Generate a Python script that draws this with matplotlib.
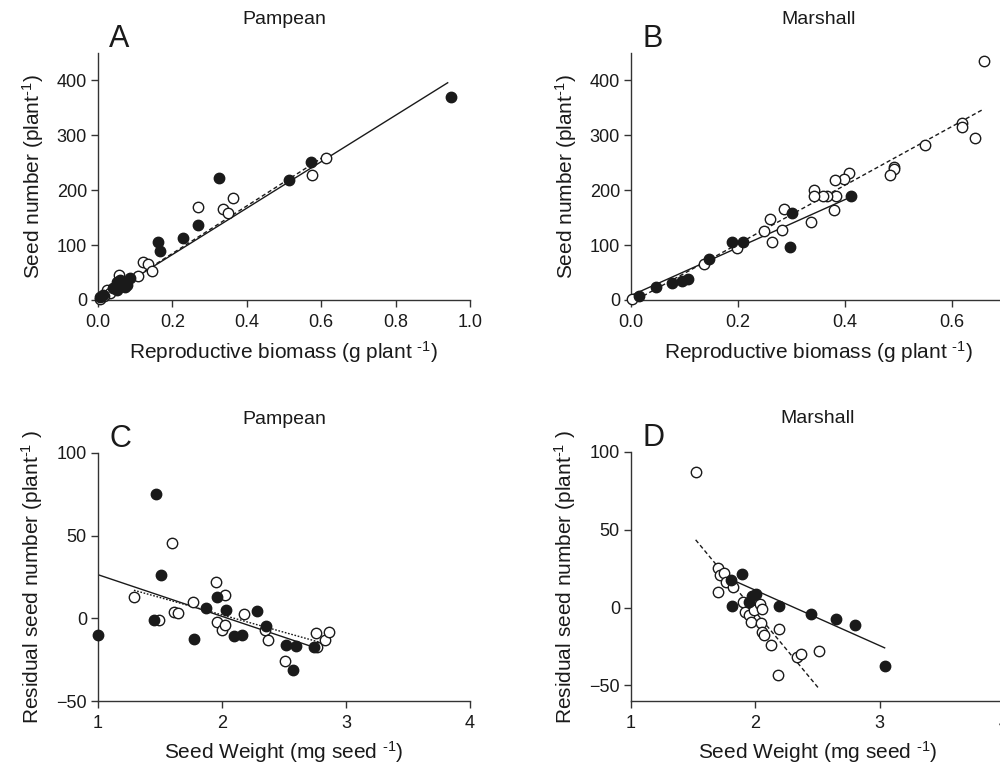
import numpy as np
import matplotlib
matplotlib.use("Agg")
import matplotlib.pyplot as plt

plt.rcParams['font.family'] = ['Liberation Sans', 'DejaVu Sans']
plt.rcParams['mathtext.fontset'] = 'custom'
plt.rcParams['mathtext.rm'] = 'Liberation Sans'
plt.rcParams['mathtext.it'] = 'Liberation Sans:italic'

# Panel A - Pampean, reproductive biomass vs seed number
a_filled_x = [0.949, 0.572, 0.513, 0.326, 0.270, 0.229, 0.162, 0.168, 0.050, 0.077,
              0.086, 0.073, 0.050, 0.014, 0.005, 0.059, 0.065, 0.040]
a_filled_y = [369, 251, 218, 223, 137, 112, 106, 90, 33, 27,
              40, 24, 18, 9, 5, 36, 30, 22]
a_open_x = [0.614, 0.574, 0.364, 0.337, 0.349, 0.269, 0.122, 0.135, 0.145, 0.107,
            0.057, 0.023, 0.005, 0.032, 0.015]
a_open_y = [259, 228, 186, 166, 158, 169, 69, 66, 52, 44,
            46, 18, 1, 12, 8]

# Panel B - Marshall
b_filled_x = [0.412, 0.300, 0.297, 0.209, 0.189, 0.146, 0.106, 0.095, 0.077, 0.047, 0.015]
b_filled_y = [189, 158, 96, 105, 105, 75, 38, 35, 30, 23, 7]
b_open_x = [0.660, 0.618, 0.618, 0.643, 0.550, 0.492, 0.491, 0.484, 0.407, 0.399,
            0.382, 0.384, 0.379, 0.366, 0.359, 0.342, 0.342, 0.336, 0.286, 0.282,
            0.260, 0.264, 0.249, 0.198, 0.137, 0.002]
b_open_y = [436, 323, 315, 295, 283, 242, 239, 228, 231, 221,
            219, 189, 163, 190, 190, 201, 189, 142, 166, 128,
            147, 105, 125, 94, 66, 1]

# Panel C - Pampean, seed weight vs residual seed number
c_filled_x = [1.00, 1.465, 1.508, 1.454, 1.777, 1.871, 1.957, 2.03, 2.10, 2.16,
              2.28, 2.355, 2.516, 2.60, 2.575, 2.742]
c_filled_y = [-9.9, 75, 26, -1, -12.7, 6.2, 12.9, 4.8, -10.7, -10.3,
              4.2, -4.8, -15.9, -16.9, -31, -17.3]
c_open_x = [1.293, 1.492, 1.594, 1.615, 1.643, 1.763, 1.954, 2.024, 1.957, 1.997,
            2.024, 2.177, 2.35, 2.373, 2.508, 2.756, 2.769, 2.83, 2.863]
c_open_y = [12.9, -0.8, 45.5, 3.8, 3.2, 9.7, 21.8, 13.9, -2.2, -6.8,
            -4.2, 2.4, -7.3, -13.3, -26, -8.7, -17.3, -12.9, -8.3]

# Panel D - Marshall
d_filled_x = [1.895, 1.804, 1.81, 1.97, 2.003, 1.95, 2.19, 2.446, 2.652, 2.80, 3.043]
d_filled_y = [21.6, 18, 0.8, 7.2, 9, 3.4, 0.8, -3.8, -7.3, -10.9, -37.6]
d_open_x = [1.52, 1.70, 1.70, 1.716, 1.748, 1.764, 1.818, 1.903, 1.917, 1.95,
            1.963, 1.99, 2.04, 2.056, 2.043, 2.056, 2.07, 2.126, 2.19, 2.185,
            2.338, 2.368, 2.51]
d_open_y = [87, 10, 25.4, 21, 22, 16.5, 13, 3.4, -2.8, -5,
            -9.2, -1.3, 2.6, -0.9, -9.8, -15.6, -17.7, -24, -13.7, -43,
            -32, -30, -28]

# fitted lines: (intercept, slope, x start, x end)
a_filled_fit = (-2, 423, 0.0, 0.94)
a_open_fit = (-2, 433, 0.0, 0.61)
b_filled_fit = (8, 437, 0.0, 0.41)
b_open_fit = (-5, 535, 0.0, 0.66)
c_filled_fit = (51.6, -25.2, 1.0, 2.74)
c_open_fit = (44.1, -21.0, 1.29, 2.78)
d_filled_fit = (82.4, -35.6, 1.81, 3.04)
d_open_fit = (190.1, -96.4, 1.52, 2.51)

ink = '#1a1a1a'
fig = plt.figure(figsize=(10, 7.67), dpi=100)


def draw_panel(rect, letter, title, fx, fy, ox, oy, ffit, ofit, ostyle):
    ax = fig.add_axes(rect)
    b0, b1, x0, x1 = ffit
    xs = np.array([x0, x1])
    ax.plot(xs, b0 + b1 * xs, color=ink, lw=1.0, zorder=2)
    b0, b1, x0, x1 = ofit
    xs = np.array([x0, x1])
    ax.plot(xs, b0 + b1 * xs, color=ink, lw=1.0, linestyle=ostyle, zorder=2)
    ax.plot(ox, oy, 'o', ms=7.5, mfc='white', mec=ink, mew=1.0,
            linestyle='none', zorder=3, clip_on=False)
    ax.plot(fx, fy, 'o', ms=7.5, mfc=ink, mec=ink, mew=1.0,
            linestyle='none', zorder=4, clip_on=False)
    for s in ['top', 'right']:
        ax.spines[s].set_visible(False)
    for s in ['left', 'bottom']:
        ax.spines[s].set_color('#333333')
        ax.spines[s].set_linewidth(1.0)
    ax.tick_params(direction='out', length=5, width=1.0, color='#333333',
                   labelsize=13, labelcolor=ink)
    ax.tick_params(axis='x', pad=5)
    ax.tick_params(axis='y', pad=3)
    ax.set_title(title, fontsize=14, pad=21, color=ink)
    ax.text(0.03, 0.995, letter, transform=ax.transAxes, fontsize=22,
            va='bottom', ha='left', color=ink)
    return ax


axA = draw_panel([0.098, 0.609, 0.372, 0.322], 'A', 'Pampean',
                 a_filled_x, a_filled_y, a_open_x, a_open_y,
                 a_filled_fit, a_open_fit, (0, (3, 2)))
axA.set_xlim(0, 1.0)
axA.set_ylim(0, 450)
axA.set_xticks([0, 0.2, 0.4, 0.6, 0.8, 1.0])
axA.set_xticklabels(['0.0', '0.2', '0.4', '0.6', '0.8', '1.0'])
axA.set_yticks([0, 100, 200, 300, 400])

axB = draw_panel([0.631, 0.609, 0.3745, 0.322], 'B', 'Marshall',
                 b_filled_x, b_filled_y, b_open_x, b_open_y,
                 b_filled_fit, b_open_fit, (0, (3, 2)))
axB.set_xlim(0, 0.7)
axB.set_ylim(0, 450)
axB.set_xticks([0, 0.2, 0.4, 0.6])
axB.set_xticklabels(['0.0', '0.2', '0.4', '0.6'])
axB.set_yticks([0, 100, 200, 300, 400])

axC = draw_panel([0.098, 0.086, 0.372, 0.3234], 'C', 'Pampean',
                 c_filled_x, c_filled_y, c_open_x, c_open_y,
                 c_filled_fit, c_open_fit, (0, (1.2, 1.2)))
axC.set_xlim(1, 4)
axC.set_ylim(-50, 100)
axC.set_xticks([1, 2, 3, 4])
axC.set_yticks([-50, 0, 50, 100])

axD = draw_panel([0.631, 0.086, 0.373, 0.3247], 'D', 'Marshall',
                 d_filled_x, d_filled_y, d_open_x, d_open_y,
                 d_filled_fit, d_open_fit, (0, (3, 2)))
axD.set_xlim(1, 4)
axD.set_ylim(-60, 100)
axD.set_xticks([1, 2, 3, 4])
axD.set_yticks([-50, 0, 50, 100])

sup = r'$^{\mathrm{\text{-1}}}$'
for ax in [axA, axB]:
    ax.set_xlabel('Reproductive biomass (g plant ' + sup + ')', fontsize=15, labelpad=6, color=ink)
    ax.set_ylabel('Seed number (plant' + sup + ')', fontsize=15, labelpad=8, color=ink)
for ax in [axC, axD]:
    ax.set_xlabel('Seed Weight (mg seed ' + sup + ')', fontsize=15, labelpad=5, color=ink)
    ax.set_ylabel('Residual seed number (plant' + sup + ' )', fontsize=15, labelpad=8, color=ink)

fig.savefig('out.png', dpi=100)
